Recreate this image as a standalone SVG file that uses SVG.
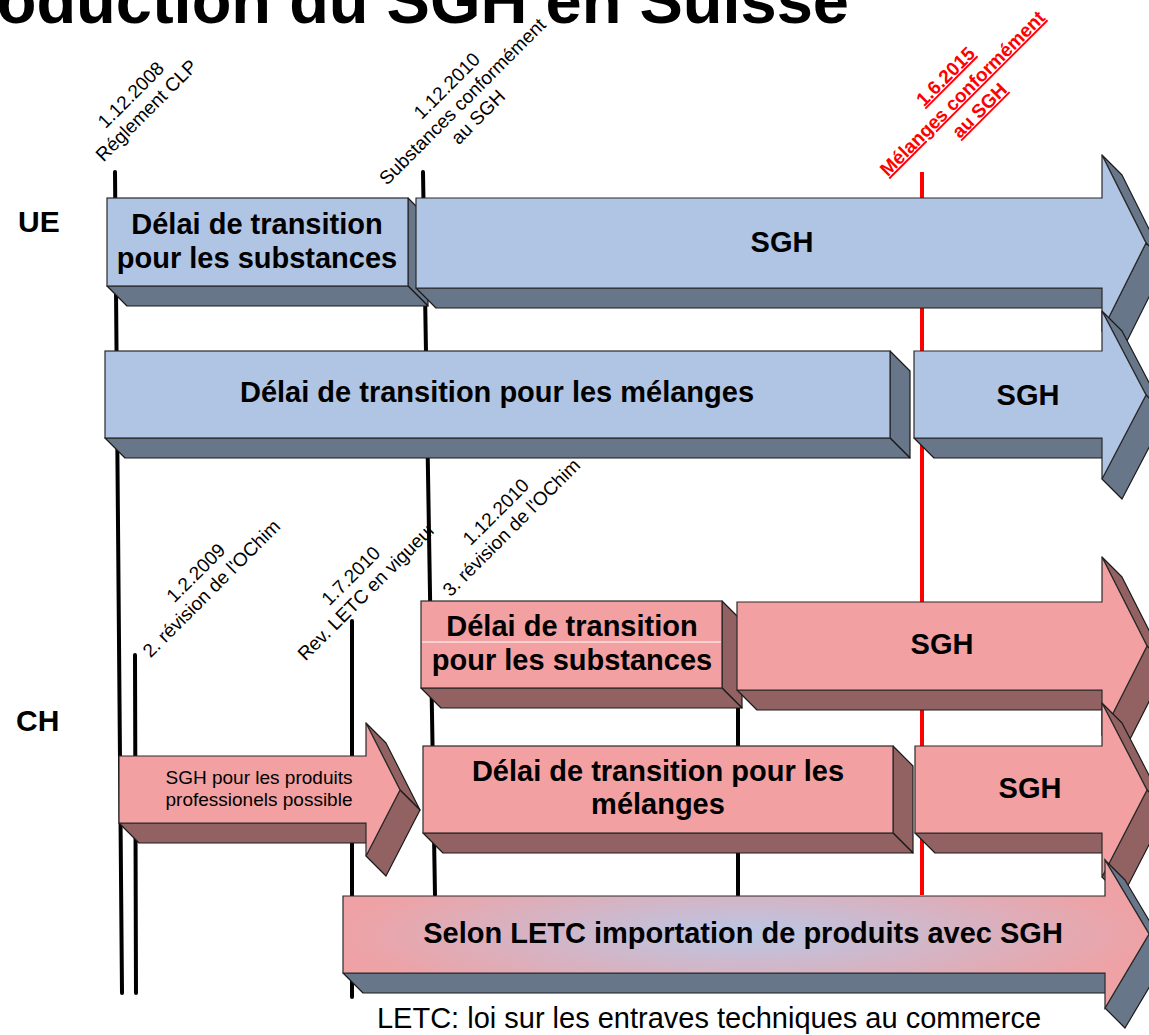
<svg xmlns="http://www.w3.org/2000/svg" width="1149" height="1035" viewBox="0 0 1149 1035">
<defs>
<style>
text{font-family:"Liberation Sans",Arial,Helvetica,sans-serif;}
.b{font-weight:bold;font-size:29px;text-anchor:middle;fill:#000}
.ue{fill:#B0C4E3;stroke:#2a2a2a;stroke-width:1.2}
.ued{fill:#68768A;stroke:#1a1a1a;stroke-width:1.2;stroke-linejoin:round}
.ch{fill:#F2A0A1;stroke:#2a2a2a;stroke-width:1.2}
.chd{fill:#926262;stroke:#1a1a1a;stroke-width:1.2;stroke-linejoin:round}
.lt{fill:url(#g);stroke:#2a2a2a;stroke-width:1.2}
.vl{stroke:#000;stroke-width:4;stroke-linecap:round;fill:none}
.rl{stroke:#FF0000;stroke-width:4;fill:none}
.lbl{font-size:19px;text-anchor:middle;fill:#000}
.red{font-size:19px;font-weight:bold;text-anchor:middle;fill:#FF0000;text-decoration:underline}
.sm{font-size:19px;text-anchor:middle;fill:#000}
.reg{font-weight:bold;font-size:30px;fill:#000}
</style>
<radialGradient id="g" cx="0.5" cy="0.5" r="0.5">
<stop offset="0" stop-color="#B9C7E6"/>
<stop offset="1" stop-color="#EEA2A5"/>
</radialGradient>
</defs>
<rect width="1149" height="1035" fill="#FFFFFF"/>

<text x="849" y="23" style="font-weight:bold;font-size:65px;text-anchor:end;fill:#000">Introduction du SGH en Suisse</text>

<g id="timeline">
<path class="vl" d="M115,172 L122,993"/>
<path class="vl" d="M135,655 L136,993"/>
<path class="vl" d="M423,172 L435,895"/>
<path class="vl" d="M352,621 L352,997"/>
<path class="vl" d="M738,700 L738,895"/>
<path class="rl" d="M922,172 L922,895"/>
</g>

<g id="labels">
<text class="lbl" transform="translate(151,115) rotate(-45)"><tspan x="0" y="-22">1.12.2008</tspan><tspan x="0" y="0">Réglement CLP</tspan></text>
<text class="lbl" transform="translate(467,106) rotate(-45)"><tspan x="0" y="-22">1.12.2010</tspan><tspan x="0" y="0">Substances conformément</tspan><tspan x="0" y="22">au SGH</tspan></text>
<text class="red" transform="translate(967,98) rotate(-45)"><tspan x="0" y="-24">1.6.2015</tspan><tspan x="0" y="0">Mélanges conformément</tspan><tspan x="0" y="24">au SGH</tspan></text>
<text class="lbl" transform="translate(216,593) rotate(-45)"><tspan x="0" y="-22">1.2.2009</tspan><tspan x="0" y="0">2. révision de l'OChim</tspan></text>
<text class="lbl" transform="translate(371,596) rotate(-45)"><tspan x="0" y="-22">1.7.2010</tspan><tspan x="0" y="0">Rev. LETC en vigueur</tspan></text>
<text class="lbl" transform="translate(516,532) rotate(-45)"><tspan x="0" y="-22">1.12.2010</tspan><tspan x="0" y="0">3. révision de l'OChim</tspan></text>
</g>

<text class="reg" x="18" y="232">UE</text>
<text class="reg" x="16" y="731">CH</text>

<g id="ue-substances-transition">
<polygon class="ued" points="408,198 428,218 428,306 408,286"/>
<polygon class="ued" points="107,286 408,286 428,306 127,306"/>
<rect class="ue" x="107" y="198" width="301" height="88"/>
<text class="b" x="257" y="234">Délai de transition</text>
<text class="b" x="257" y="268">pour les substances</text>
</g>

<g id="ue-substances-sgh">
<polygon class="ued" points="416,288 1102,288 1122,308 436,308"/>
<polygon class="ued" points="1102,155 1146,243 1166,263 1122,175"/>
<polygon class="ued" points="1146,243 1102,331 1122,351 1166,263"/>
<polygon class="ue" points="416,198 1102,198 1102,155 1146,243 1102,331 1102,288 416,288"/>
<text class="b" x="782" y="252">SGH</text>
</g>

<g id="ue-melanges-transition">
<polygon class="ued" points="890,351 910,371 910,458 890,438"/>
<polygon class="ued" points="105,438 890,438 910,458 125,458"/>
<rect class="ue" x="105" y="351" width="785" height="87"/>
<text class="b" x="497" y="402">Délai de transition pour les mélanges</text>
</g>

<g id="ue-melanges-sgh">
<polygon class="ued" points="914,438 1102,438 1122,458 934,458"/>
<polygon class="ued" points="1102,311 1146,395 1166,415 1122,331"/>
<polygon class="ued" points="1146,395 1102,479 1122,499 1166,415"/>
<polygon class="ue" points="914,351 1102,351 1102,311 1146,395 1102,479 1102,438 914,438"/>
<text class="b" x="1028" y="405">SGH</text>
</g>

<g id="ch-substances-transition">
<polygon class="chd" points="722,601 742,621 742,708 722,688"/>
<polygon class="chd" points="421,688 722,688 742,708 441,708"/>
<rect class="ch" x="421" y="601" width="301" height="87"/>
<line x1="422" y1="642" x2="721" y2="642" stroke="#FFFFFF" stroke-width="1.2"/>
<text class="b" x="572" y="636">Délai de transition</text>
<text class="b" x="572" y="670">pour les substances</text>
</g>

<g id="ch-substances-sgh">
<polygon class="chd" points="737,690 1102,690 1122,710 757,710"/>
<polygon class="chd" points="1102,557 1147,646 1167,666 1122,577"/>
<polygon class="chd" points="1147,646 1102,735 1122,755 1167,666"/>
<polygon class="ch" points="737,602 1102,602 1102,557 1147,646 1102,735 1102,690 737,690"/>
<text class="b" x="942" y="654">SGH</text>
</g>

<g id="ch-professionnels">
<polygon class="chd" points="119,823 366,823 386,843 139,843"/>
<polygon class="chd" points="366,723 400,790 420,810 386,743"/>
<polygon class="chd" points="400,790 366,856 386,876 420,810"/>
<polygon class="ch" points="119,756 366,756 366,723 400,790 366,856 366,823 119,823"/>
<text class="sm" x="259" y="784">SGH pour les produits</text>
<text class="sm" x="259" y="806">professionels possible</text>
</g>

<g id="ch-melanges-transition">
<polygon class="chd" points="893,746 913,766 913,853 893,833"/>
<polygon class="chd" points="423,833 893,833 913,853 443,853"/>
<rect class="ch" x="423" y="746" width="470" height="87"/>
<text class="b" x="658" y="781">Délai de transition pour les</text>
<text class="b" x="658" y="814">mélanges</text>
</g>

<g id="ch-melanges-sgh">
<polygon class="chd" points="915,833 1102,833 1122,853 935,853"/>
<polygon class="chd" points="1102,703 1147,790 1167,810 1122,723"/>
<polygon class="chd" points="1147,790 1102,877 1122,897 1167,810"/>
<polygon class="ch" points="915,746 1102,746 1102,703 1147,790 1102,877 1102,833 915,833"/>
<text class="b" x="1030" y="798">SGH</text>
</g>

<g id="ch-letc-import">
<polygon class="ued" points="343,973 1105,973 1125,993 363,993"/>
<polygon class="ued" points="1105,860 1149,934 1169,954 1125,880"/>
<polygon class="ued" points="1149,934 1105,1008 1125,1028 1169,954"/>
<polygon class="lt" points="343,896 1105,896 1105,860 1149,934 1105,1008 1105,973 343,973"/>
<text class="b" x="743" y="943">Selon LETC importation de produits avec SGH</text>
</g>

<text x="709" y="1028" style="font-size:29px;text-anchor:middle;fill:#000">LETC: loi sur les entraves techniques au commerce</text>
</svg>
